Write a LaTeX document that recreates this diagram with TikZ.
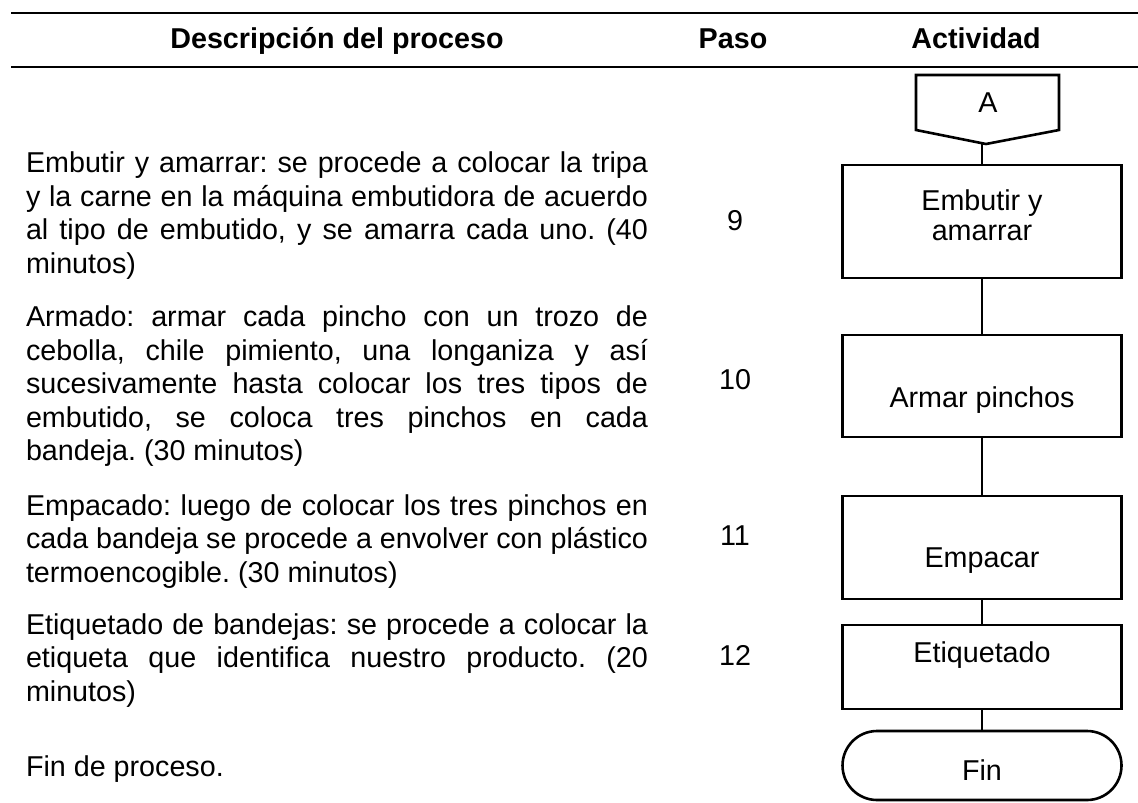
\documentclass[tikz,border=0pt]{standalone}
\usepackage{fontspec}
\setmainfont{Liberation Sans}
\newlength{\anchodesc}
\setlength{\anchodesc}{311pt}
\newcommand{\espaciado}{\spaceskip=0pt \xspaceskip=0pt \frenchspacing}
\newcommand{\renglon}[1]{\makebox[\anchodesc][s]{\espaciado #1}\\}

\begin{document}
\begin{tikzpicture}[x=0.5pt,y=-0.5pt,
	every node/.style={font=\fontsize{14.35}{16.75}\selectfont,inner sep=0,outer sep=0},
	desc/.style={anchor=north west,text width=\anchodesc,align=left},
	paso/.style={anchor=base},
	titulo/.style={anchor=base,font=\fontsize{14.35}{16.75}\selectfont\bfseries},
	caja/.style={draw,line width=1.3pt,minimum width=139.5pt,align=center},
	linea/.style={line width=1.3pt},
	regla/.style={line width=1.1pt}]
	\useasboundingbox (0,0) rectangle (1138,802);
	\draw[regla] (11,13) -- (1138,13);
	\draw[regla] (11,67) -- (1138,67);
	\node[titulo] (tdesc) at (337,49) {Descripción del proceso};
	\node[titulo] (tpaso) at (733,49) {Paso};
	\node[titulo] (tact) at (976,49) {Actividad};
	\node[desc] (d9) at (26,149.5) {\espaciado\strut\renglon{Embutir y amarrar: se procede a colocar la tripa}\renglon{y la carne en la máquina embutidora de acuerdo}\renglon{al tipo de embutido, y se amarra cada uno. (40}minutos)};
	\node[desc] (d10) at (26,303.5) {\espaciado\strut\renglon{Armado: armar cada pincho con un trozo de}\renglon{cebolla, chile pimiento, una longaniza y así}\renglon{sucesivamente hasta colocar los tres tipos de}\renglon{embutido, se coloca tres pinchos en cada}bandeja. (30 minutos)};
	\node[desc] (d11) at (26,492) {\espaciado\strut\renglon{Empacado: luego de colocar los tres pinchos en}\renglon{cada bandeja se procede a envolver con plástico}termoencogible. (30 minutos)};
	\node[desc] (d12) at (26,611) {\espaciado\strut\renglon{Etiquetado de bandejas: se procede a colocar la}\renglon{etiqueta que identifica nuestro producto. (20}minutos)};
	\node[desc] (dfin) at (26,753.5) {\espaciado\strut Fin de proceso.};
	\node[paso] (p9) at (735,230) {9};
	\node[paso] (p10) at (735,389) {10};
	\node[paso] (p11) at (735,545) {11};
	\node[paso] (p12) at (735,665) {12};
	\draw[linea] (916,75) -- (1059,75) -- (1059,130) -- (986,144) -- (916,130) -- cycle;
	\node (conA) at (988,103) {A};
	\coordinate (puntaA) at (982,143);
	\node[caja,minimum height=56.5pt,text height=18.5pt,text depth=0pt] (emb) at (982,221.5) {\begin{tabular}[b]{@{}c@{}}Embutir y\\[-2.25pt]amarrar\end{tabular}};
	\node[caja,minimum height=51pt,text height=21pt,text depth=0pt] (arm) at (982,386) {\espaciado Armar pinchos};
	\node[caja,minimum height=51.5pt,text height=19.5pt,text depth=0pt] (emp) at (982,547.5) {Empacar};
	\node[caja,minimum height=42pt,text height=3pt,text depth=8pt] (eti) at (982,667) {Etiquetado};
	\node[caja,minimum height=34.5pt,rounded corners=17.25pt,text height=14.5pt,text depth=0pt] (fin) at (982,765.5) {Fin};
	\draw[linea] (puntaA) -- (emb) -- (arm) -- (emp) -- (eti) -- (fin);
\end{tikzpicture}
\end{document}
